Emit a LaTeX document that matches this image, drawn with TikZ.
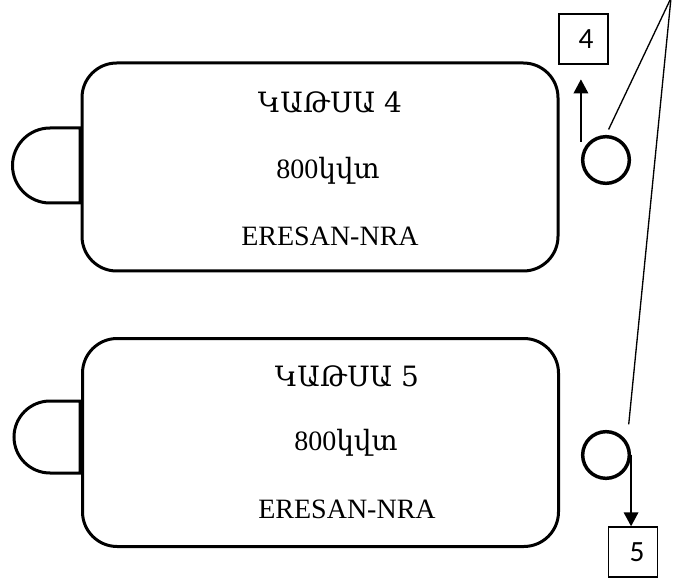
\documentclass[tikz,border=0pt]{standalone}
\usepackage{fontspec}
\setmainfont{Liberation Serif}
\newfontfamily\armfont{DejaVu Serif}
\newfontfamily\numfont{Carlito}
\usetikzlibrary{
	arrows.meta,									% 箭头样式
	positioning,									% 节点摆放
}

\begin{document}
\begin{tikzpicture}[x=0.75pt, y=-0.75pt,
		boiler/.style={draw, line width=2.25pt, rounded corners=26pt, minimum width=357pt, minimum height=156pt},
		tab/.style={draw, fill=white, line width=2.25pt},
		valve/.style={draw, circle, line width=2.6pt, minimum size=35pt, inner sep=0pt},
		tag/.style={draw, line width=1.1pt, minimum width=36.75pt, minimum height=37.5pt, inner sep=0pt, font=\numfont\fontsize{22}{24}\selectfont},
		caption/.style={anchor=base, inner sep=0pt, font=\fontsize{21}{25}\selectfont},
		flow/.style={line width=1.1pt, -{Triangle[length=10.5pt, width=11pt]}},
		leader/.style={line width=1pt},
	]
		\useasboundingbox (0,0) rectangle (686,581);

		% upper unit
		\node[boiler] (boilerA) at (320,167) {};
		\draw[tab] (80,128) -- (50,128) arc[start angle=270, end angle=90, radius=37.5] -- (80,203) -- cycle;
		\node[caption] (nameA) at (330,113) {\armfont ԿԱԹՍԱ 4};
		\node[caption] (powerA) at (328,179) {800\armfont կվտ};
		\node[caption] (siteA) at (330,246) {ERESAN-NRA};

		% lower unit
		\node[boiler] (boilerB) at (320.5,442.5) {};
		\draw[tab] (80,401) -- (50,401) arc[start angle=270, end angle=90, radius=36] -- (80,473) -- cycle;
		\node[caption] (nameB) at (347,386) {\armfont ԿԱԹՍԱ 5};
		\node[caption] (powerB) at (346,450) {800\armfont կվտ};
		\node[caption] (siteB) at (347,518) {ERESAN-NRA};

		% outlets
		\node[valve] (valveA) at (606,160) {};
		\node[valve] (valveB) at (606,455) {};
		\node[tag] (tagA) at (583.5,39) {\hspace{4pt}4};
		\node[tag] (tagB) at (633,552) {\hspace{6pt}5};

		\draw[flow, shorten >=11pt] ([yshift=13.5pt]valveA.west) -- (valveA.west |- tagA.south);
		\draw[flow] (valveB.east) -- (valveB.east |- tagB.north);

		% leaders
		\coordinate (apex) at (671,-2);
		\draw[leader, shorten >=4.5pt] (apex) -- (valveA.north);
		\draw[leader, shorten >=12.75pt] (apex) -- (valveB.33);
	\end{tikzpicture}
\end{document}
